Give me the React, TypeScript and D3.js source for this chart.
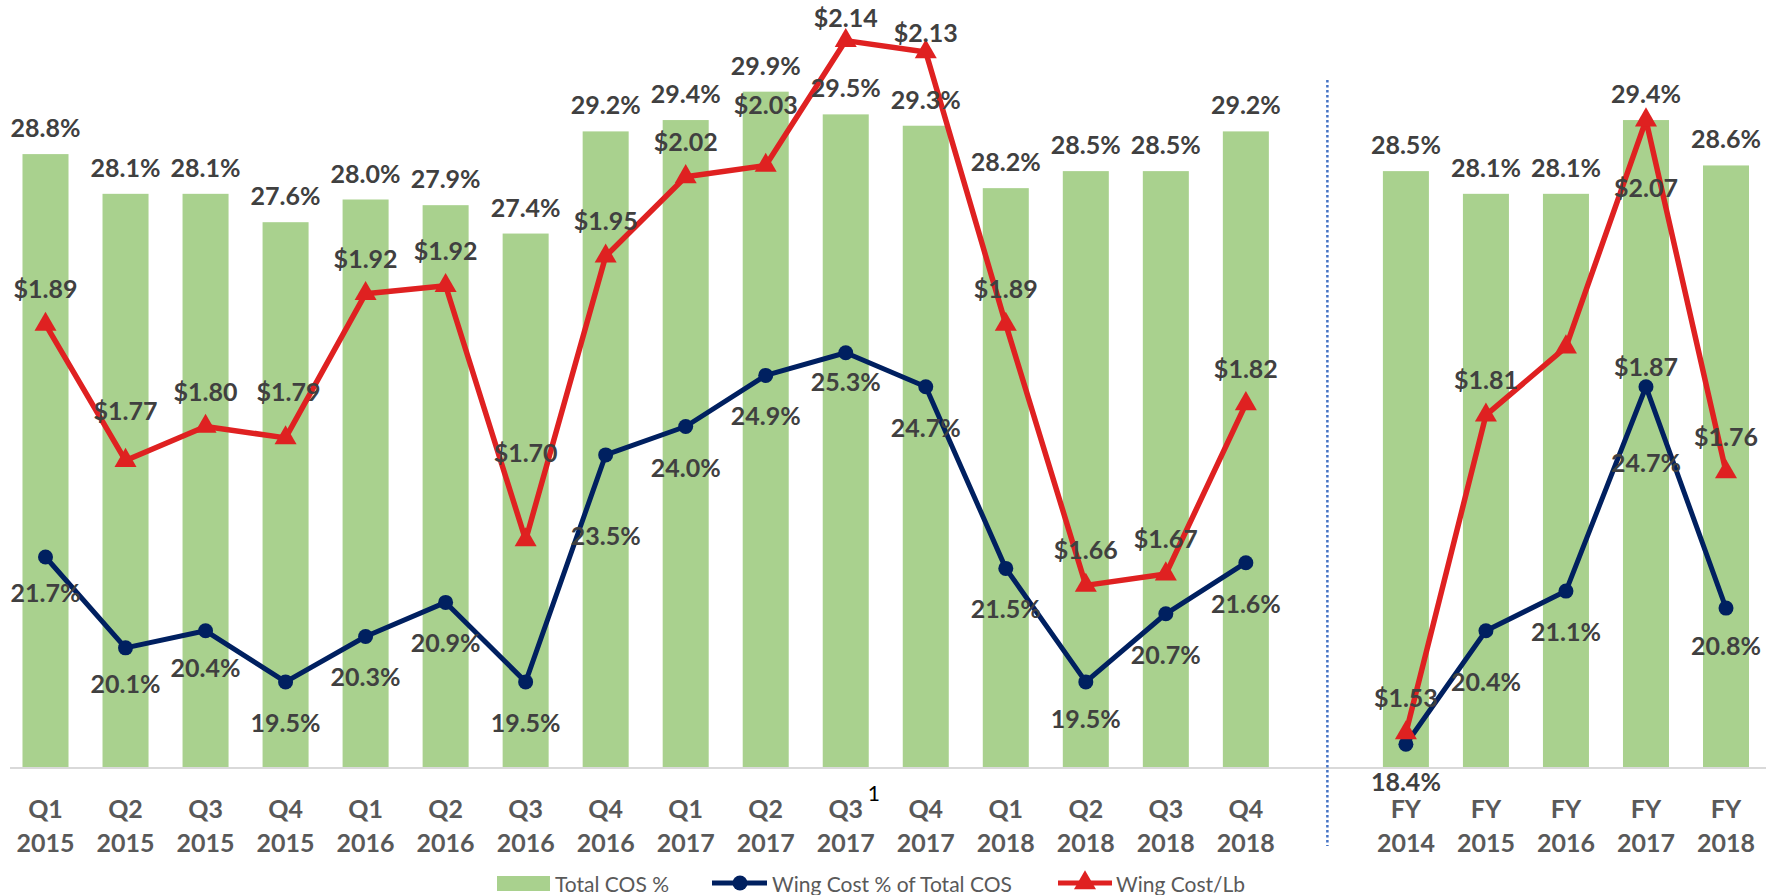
import React from 'react';
import * as d3 from 'd3';

// categories
const quarters = ['Q1 2015', 'Q2 2015', 'Q3 2015', 'Q4 2015', 'Q1 2016', 'Q2 2016', 'Q3 2016', 'Q4 2016',
    'Q1 2017', 'Q2 2017', 'Q3 2017', 'Q4 2017', 'Q1 2018', 'Q2 2018', 'Q3 2018', 'Q4 2018'];
const years = ['FY 2014', 'FY 2015', 'FY 2016', 'FY 2017', 'FY 2018'];

// Total COS % (bars)
const totalCosQ = [28.8, 28.1, 28.1, 27.6, 28.0, 27.9, 27.4, 29.2, 29.4, 29.9, 29.5, 29.3, 28.2, 28.5, 28.5, 29.2];
const totalCosFY = [28.5, 28.1, 28.1, 29.4, 28.6];

// Wing Cost % of Total COS (navy line)
const wingPctQ = [21.7, 20.1, 20.4, 19.5, 20.3, 20.9, 19.5, 23.5, 24.0, 24.9, 25.3, 24.7, 21.5, 19.5, 20.7, 21.6];
const wingPctFY = [18.4, 20.4, 21.1, 24.7, 20.8];

// Wing Cost/Lb (red line)
const wingLbQ = [1.89, 1.77, 1.80, 1.79, 1.917, 1.924, 1.70, 1.95, 2.02, 2.03, 2.14, 2.13, 1.89, 1.66, 1.67, 1.82];
const wingLbFY = [1.53, 1.81, 1.87, 2.07, 1.76];

const width = 1777;
const height = 895;
const plotTop = 86;
const plotBottom = 767;

const GREEN = '#A9D18E';
const NAVY = '#002060';
const RED = '#DF2121';
const LABEL = '#404040';
const AXIS_TXT = '#595959';
const FONT = 'Lato, "Open Sans", sans-serif';

// hand placed label nudges (dx, dy from the point)
const redShift: Record<string, [number, number]> = {
    'Q2 2015': [0, -51], 'Q4 2015': [3, -47], 'Q3 2016': [0, -88], 'Q2 2017': [0, -61],
    'Q3 2017': [0, -24], 'Q4 2017': [0, -20], 'FY 2016': [80, 19], 'FY 2017': [0, 67],
};
const navyShift: Record<string, [number, number]> = {
    'Q1 2015': [0, 35], 'Q2 2015': [0, 35], 'Q3 2015': [0, 36], 'Q4 2016': [0, 80],
    'Q3 2017': [0, 28], 'Q2 2018': [0, 36], 'FY 2014': [0, 37], 'FY 2015': [0, 50], 'FY 2017': [0, 75],
    'FY 2018': [0, 37],
};

type Pt = { key: string, bar: number, pct: number, lb: number };

const App: React.FC = () => {
    const qPts: Pt[] = quarters.map((k, i) => ({ key: k, bar: totalCosQ[i], pct: wingPctQ[i], lb: wingLbQ[i] }));
    const fPts: Pt[] = years.map((k, i) => ({ key: k, bar: totalCosFY[i], pct: wingPctFY[i], lb: wingLbFY[i] }));
    const all = [...qPts, ...fPts];

    const x = d3.scalePoint<string>()
        .domain([...quarters, 'gap', ...years])
        .range([45.5, 1726]);
    const barW = x.step() * 0.575;
    const y = d3.scaleLinear().domain([18, 30]).range([plotBottom, plotTop]);
    const y2 = d3.scaleLinear().domain([1.5, 2.1]).range([plotBottom, plotTop]);

    const pctLine = d3.line<Pt>(d => x(d.key)!, d => y(d.pct));
    const lbLine = d3.line<Pt>(d => x(d.key)!, d => y2(d.lb));
    const tri = d3.symbol(d3.symbolTriangle, 210)();
    const gapX = x('gap')!;

    return (
        <svg width={width} height={height} style={{ position: 'absolute', left: 0, top: 0, background: '#fff' }}
            fontFamily={FONT}>
            <g fill={GREEN}>
                {all.map(d => (
                    <rect key={d.key} x={x(d.key)! - barW / 2} y={y(d.bar)} width={barW}
                        height={plotBottom - y(d.bar)} />
                ))}
            </g>
            <line x1={10} x2={1766} y1={plotBottom + 1} y2={plotBottom + 1} stroke="#D9D9D9" strokeWidth={2} />
            <line x1={gapX + 1.5} x2={gapX + 1.5} y1={80} y2={846} stroke="#4472C4" strokeWidth={2.5}
                strokeDasharray="2.5 2.5" />

            {[qPts, fPts].map((seg, si) => (
                <g key={'n' + si}>
                    <path d={pctLine(seg)!} fill="none" stroke={NAVY} strokeWidth={5} strokeLinejoin="round" />
                    {seg.map(d => <circle key={d.key} cx={x(d.key)} cy={y(d.pct)} r={7.5} fill={NAVY} />)}
                </g>
            ))}
            {[qPts, fPts].map((seg, si) => (
                <g key={'r' + si}>
                    <path d={lbLine(seg)!} fill="none" stroke={RED} strokeWidth={5.5} strokeLinejoin="round" />
                    {seg.map(d => <path key={d.key} d={tri!}
                        transform={`translate(${x(d.key)},${y2(d.lb)})`} fill={RED} />)}
                </g>
            ))}

            <g fill={LABEL} fontWeight="bold" fontSize={25} textAnchor="middle" dominantBaseline="central">
                {all.map(d => (
                    <text key={'b' + d.key} x={x(d.key)} y={y(d.bar) - 27}>{d.bar.toFixed(1)}%</text>
                ))}
                {all.map(d => {
                    const [dx, dy] = navyShift[d.key] ?? [0, 40];
                    return <text key={'p' + d.key} x={x(d.key)! + dx} y={y(d.pct) + dy}>{d.pct.toFixed(1)}%</text>;
                })}
                {all.map(d => {
                    const [dx, dy] = redShift[d.key] ?? [0, -36];
                    return <text key={'l' + d.key} x={x(d.key)! + dx} y={y2(d.lb) + dy}>${d.lb.toFixed(2)}</text>;
                })}
            </g>

            <g fill={AXIS_TXT} fontWeight="bold" fontSize={25} textAnchor="middle" dominantBaseline="central">
                {all.map(d => {
                    const [a, b] = d.key.split(' ');
                    return (
                        <g key={'t' + d.key}>
                            <text x={x(d.key)} y={808}>{a}</text>
                            <text x={x(d.key)} y={842}>{b}</text>
                        </g>
                    );
                })}
            </g>
            <text x={x('Q3 2017')! + 22} y={792} fontSize={21} fill="#000" dominantBaseline="central">1</text>

            <g fontSize={21} fill={AXIS_TXT} dominantBaseline="central">
                <rect x={497} y={876} width={53} height={15} fill={GREEN} />
                <text x={555} y={883}>Total COS %</text>
                <line x1={712} x2={767} y1={883} y2={883} stroke={NAVY} strokeWidth={5} />
                <circle cx={740} cy={883} r={7.5} fill={NAVY} />
                <text x={772} y={883}>Wing Cost % of Total COS</text>
                <line x1={1058} x2={1112} y1={883} y2={883} stroke={RED} strokeWidth={5} />
                <path d={tri!} transform="translate(1085,883)" fill={RED} />
                <text x={1116} y={883}>Wing Cost/Lb</text>
            </g>
        </svg>
    );
};

export default App;
